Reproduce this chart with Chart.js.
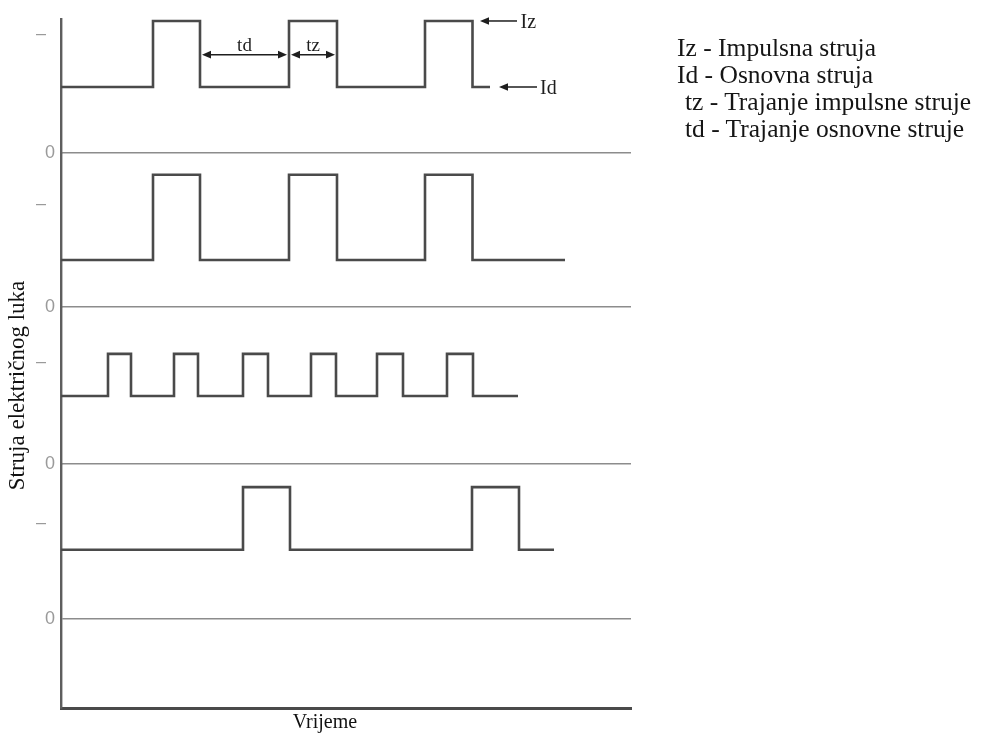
<!DOCTYPE html>
<html>
<head>
<meta charset="utf-8">
<script src="https://cdn.jsdelivr.net/npm/chart.js@4.4.1/dist/chart.umd.min.js"></script>
<style>
  html, body { margin: 0; padding: 0; background: #ffffff; }
  #wrap { position: relative; width: 982px; height: 733px; }
  #legend { position: absolute; left: 677px; top: 34px; font-family: 'Liberation Serif', 'Times New Roman', serif;
            font-size: 25.5px; line-height: 27px; color: #151515; white-space: nowrap; }
  #legend .ind { padding-left: 8px; }
</style>
</head>
<body>
<div id="wrap">
  <canvas id="c" width="982" height="733"></canvas>
  <div id="legend">
    <div>Iz - Impulsna struja</div>
    <div>Id - Osnovna struja</div>
    <div class="ind">tz - Trajanje impulsne struje</div>
    <div class="ind">td - Trajanje osnovne struje</div>
  </div>
</div>
<script>
// ---- data (time in arbitrary units, current in arbitrary units) ----
// Panel 1
const times1  = [0, 9.2, 13.9, 22.8, 27.6, 36.4, 41.15, 42.9];
const levels1 = [100, 200, 100, 200, 100, 200, 100, 100];
// Panel 2
const times2  = [0, 9.2, 13.9, 22.8, 27.6, 36.4, 41.15, 50.4];
const levels2 = [71, 200, 71, 200, 71, 200, 71, 71];
// Panel 3
const times3  = [0, 4.7, 7.0, 11.3, 13.7, 18.2, 20.7, 25.0, 27.5, 31.6, 34.2, 38.6, 41.2, 45.7];
const levels3 = [103, 167, 103, 167, 103, 167, 103, 167, 103, 167, 103, 167, 103, 103];
// Panel 4
const times4  = [0, 18.2, 22.9, 41.1, 45.8, 49.3];
const levels4 = [105, 200, 105, 200, 105, 105];
// tick marks ("0" and "–") per panel
const panelTicks = [180, 156, 155, 145];
const tickLabelZero = '0';
const tickLabelMark = '\u2013';
// annotation texts
const yTitle = 'Struja električnog luka';
const xTitle = 'Vrijeme';
const izLabel = 'Iz', idLabel = 'Id', tdLabel = 'td', tzLabel = 'tz';

const pts = (xs, ys) => xs.map((x, i) => ({ x: x, y: ys[i] }));

const LINE = '#4a4a4a';
function ds(xs, ys, axis) {
  return { data: pts(xs, ys), yAxisID: axis, stepped: true, borderColor: LINE, borderWidth: 2.6,
           pointRadius: 0, fill: false, tension: 0, clip: 4 };
}

function yAxis(min, max, weight, tickVal, withTitle) {
  return {
    type: 'linear', position: 'left', stack: 'panels', stackWeight: weight,
    min: min, max: max,
    afterBuildTicks: s => { s.ticks = [{ value: 0 }, { value: tickVal }]; },
    afterFit: s => { s.width = 61; },
    grid: { drawTicks: false, lineWidth: 1.6,
            color: ctx => (ctx.tick && ctx.tick.value === 0) ? '#8c8c8c' : 'rgba(0,0,0,0)' },
    border: { display: true, color: '#5e5e5e', width: 2.4 },
    ticks: { autoSkip: false, padding: 6, color: '#9a9a9a',
             font: { family: 'Liberation Sans', size: 18 },
             callback: v => v === 0 ? tickLabelZero : tickLabelMark + '\u2002' },
    title: { display: !!withTitle, text: yTitle, color: '#111',
             font: { family: 'Liberation Serif', size: 23 }, padding: { top: 4, bottom: 0 } }
  };
}

function arrowHead(ctx, x, y, dir) {
  const L = 9, W = 3.8;
  ctx.beginPath();
  ctx.moveTo(x, y);
  ctx.lineTo(x - dir * L, y - W);
  ctx.lineTo(x - dir * L, y + W);
  ctx.closePath();
  ctx.fill();
}

const annotations = {
  id: 'annotations',
  afterDatasetsDraw(chart) {
    const { ctx } = chart;
    const xs = chart.scales.x, y1 = chart.scales.p1;
    ctx.save();
    ctx.strokeStyle = '#1e1e1e'; ctx.fillStyle = '#1e1e1e'; ctx.lineWidth = 1.5;
    const yArr = y1.getPixelForValue(149);
    // td (gap between pulse 1 and 2) and tz (pulse 2 width)
    const spans = [[times1[2], times1[3], tdLabel], [times1[3], times1[4], tzLabel]];
    ctx.font = '19px "Liberation Serif"';
    ctx.textAlign = 'center'; ctx.textBaseline = 'alphabetic';
    spans.forEach(([a, b, lab]) => {
      const xa = xs.getPixelForValue(a) + 2, xb = xs.getPixelForValue(b) - 2;
      ctx.beginPath(); ctx.moveTo(xa + 4, yArr); ctx.lineTo(xb - 4, yArr); ctx.stroke();
      arrowHead(ctx, xa, yArr, -1); arrowHead(ctx, xb, yArr, 1);
      ctx.fillText(lab, (xa + xb) / 2, yArr - 4);
    });
    // Iz and Id pointers
    const ptrs = [[45.6, 41.9, levels1[1], izLabel, 45.95], [47.6, 43.8, levels1[0], idLabel, 47.9]];
    ctx.textAlign = 'left'; ctx.textBaseline = 'middle';
    ctx.font = '20px "Liberation Serif"';
    ptrs.forEach(([from, to, lvl, lab, lx]) => {
      const xf = xs.getPixelForValue(from), xt = xs.getPixelForValue(to), y = y1.getPixelForValue(lvl);
      ctx.beginPath(); ctx.moveTo(xf, y); ctx.lineTo(xt + 5, y); ctx.stroke();
      arrowHead(ctx, xt, y, -1);
      ctx.fillText(lab, xs.getPixelForValue(lx), y + 2);
    });
    // time axis caption
    ctx.textAlign = 'center'; ctx.textBaseline = 'middle';
    ctx.fillStyle = '#111';
    ctx.fillText(xTitle, xs.getPixelForValue(26.4), chart.chartArea.bottom + 15);
    ctx.restore();
  }
};

new Chart(document.getElementById('c'), {
  type: 'line',
  data: {
    datasets: [
      ds(times4, levels4, 'p4'),
      ds(times3, levels3, 'p3'),
      ds(times2, levels2, 'p2'),
      ds(times1, levels1, 'p1')
    ]
  },
  options: {
    responsive: false, animation: false, events: [],
    layout: { padding: { left: 0, top: 19, right: 351, bottom: 0 } },
    plugins: { legend: { display: false }, tooltip: { enabled: false } },
    scales: {
      x: { type: 'linear', min: 0, max: 57,
           afterFit: s => { s.height = 25; },
           ticks: { display: false },
           grid: { drawTicks: false, color: 'rgba(0,0,0,0)' },
           border: { display: true, color: '#4a4a4a', width: 3 } },
      p4: yAxis(-135, 235, 244, panelTicks[3], false),
      p3: yAxis(0, 238, 157, panelTicks[2], true),
      p2: yAxis(0, 233, 154, panelTicks[1], false),
      p1: yAxis(0, 203, 134, panelTicks[0], false)
    }
  },
  plugins: [annotations]
});
</script>
</body>
</html>
